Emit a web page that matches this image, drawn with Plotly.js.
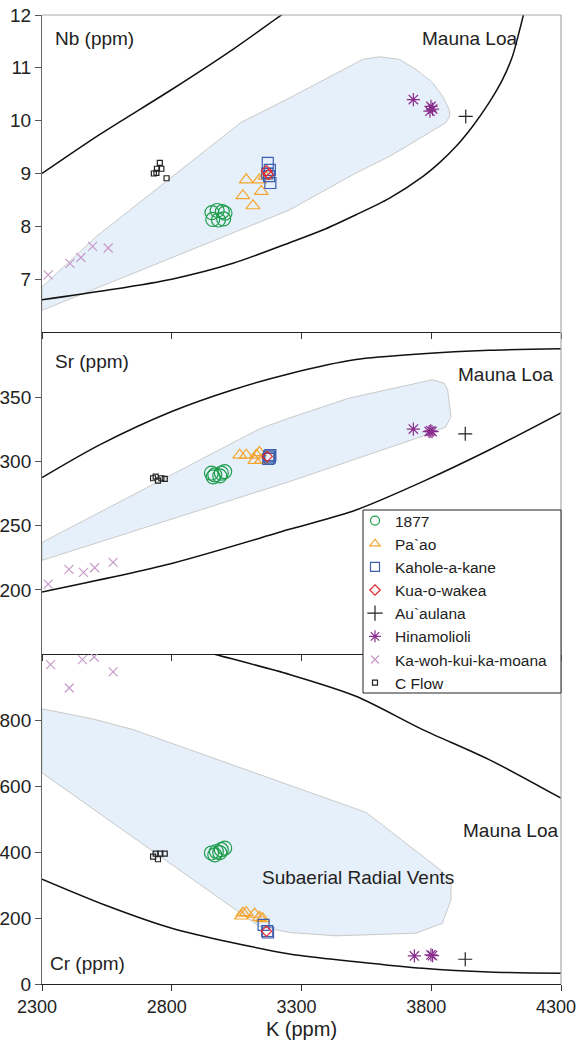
<!DOCTYPE html>
<html><head><meta charset="utf-8">
<script src="https://cdn.plot.ly/plotly-3.0.1.min.js"></script>
<style>html,body{margin:0;padding:0;background:#fff}#chart{width:579px;height:1044px}</style>
</head><body><div id="chart"></div>
<script>
// ---------- DATA ----------
const seriesNames = ['1877', 'Pa`ao', 'Kahole-a-kane', 'Kua-o-wakea', 'Au`aulana', 'Hinamolioli', 'Ka-woh-kui-ka-moana', 'C Flow'];
const xTickVals = [2300, 2800, 3300, 3800, 4300];
const nbTickVals = [7, 8, 9, 10, 11, 12];
const srTickVals = [200, 250, 300, 350];
const crTickVals = [0, 200, 400, 600, 800];

// Nb panel
const nb1877K = [2955, 2975, 2995, 3005, 2958, 2980, 3000];
const nb1877V = [8.26, 8.30, 8.28, 8.25, 8.13, 8.12, 8.14];
const nbPaaoK = [3087, 3074, 3113, 3145, 3138, 3160];
const nbPaaoV = [8.88, 8.58, 8.39, 8.66, 8.88, 8.95];
const nbKaholeK = [3170, 3178, 3175, 3180, 3168];
const nbKaholeV = [9.20, 9.07, 8.95, 8.82, 9.00];
const nbKuaK = [3165, 3172];
const nbKuaV = [9.05, 8.98];
const nbAuK = [3933];
const nbAuV = [10.08];
const nbHinaK = [3731, 3799, 3795, 3805];
const nbHinaV = [10.40, 10.27, 10.18, 10.22];
const nbKawohK = [2324, 2408, 2450, 2495, 2555];
const nbKawohV = [7.08, 7.30, 7.41, 7.62, 7.59];
const nbCflowK = [2731, 2741, 2743, 2754, 2760, 2780];
const nbCflowV = [9.00, 9.01, 9.09, 9.20, 9.09, 8.91];

const nbUpperK = [2300, 2523, 2800, 3036, 3223, 3260];
const nbUpperV = [9.0, 9.74, 10.59, 11.35, 12.0, 12.12];
const nbLowerK = [2300, 2550, 2800, 3036, 3254, 3382, 3510, 3638, 3767, 3831, 3895, 3959, 4023, 4075, 4113, 4138, 4155, 4162];
const nbLowerV = [6.61, 6.79, 7.0, 7.30, 7.69, 7.93, 8.22, 8.53, 8.94, 9.20, 9.51, 9.89, 10.34, 10.78, 11.22, 11.67, 12.0, 12.2];
const nbFieldK = [2300, 2510, 3068, 3254, 3536, 3600, 3677, 3741, 3805, 3844, 3869, 3872, 3856, 3767, 3638, 3510, 3254, 2300, 2300];
const nbFieldV = [6.85, 7.81, 9.97, 10.43, 11.16, 11.21, 11.16, 10.97, 10.72, 10.46, 10.21, 10.09, 9.96, 9.70, 9.32, 9.01, 8.31, 6.41, 6.85];

// Sr panel
const sr1877K = [2953, 2966, 2991, 3004, 2985, 2960];
const sr1877V = [291, 289.6, 291, 292.2, 288.8, 288];
const srPaaoK = [3062, 3087, 3126, 3138, 3145, 3120];
const srPaaoV = [305, 305, 305, 307, 301, 301];
const srKaholeK = [3172, 3175, 3178, 3180];
const srKaholeV = [302, 304, 303, 305];
const srKuaK = [3168];
const srKuaV = [304];
const srAuK = [3931];
const srAuV = [321.6];
const srHinaK = [3731, 3792, 3803, 3798];
const srHinaV = [325.3, 323.4, 323.4, 324];
const srKawohK = [2324, 2404, 2460, 2503, 2574];
const srKawohV = [204.5, 216, 213.6, 217.2, 221.4];
const srCflowK = [2728, 2738, 2747, 2760, 2773];
const srCflowV = [287, 288.3, 285.2, 287, 286.5];

const srUpperK = [2300, 2522, 2800, 3036, 3254, 3510, 3767, 4023, 4300];
const srUpperV = [287.5, 313, 339, 356, 368.5, 379.5, 384, 386.7, 388];
const srLowerK = [2300, 2800, 3254, 3510, 3767, 4023, 4300];
const srLowerV = [198.4, 220.6, 247.2, 262.3, 284.4, 309, 338];
const srFieldK = [2300, 3138, 3254, 3484, 3805, 3850, 3863, 3876, 3856, 3767, 3254, 2300, 2300];
const srFieldV = [237, 325.5, 334, 349.5, 363.8, 361, 356, 335, 327, 319.8, 284.4, 223, 237];

// Cr panel
const cr1877K = [2953, 2972, 2991, 3004, 2966, 2985];
const cr1877V = [397, 401.5, 407, 412, 391, 398];
const crPaaoK = [3074, 3087, 3119, 3138, 3068, 3150];
const crPaaoV = [215, 216, 212, 202, 206, 198];
const crKaholeK = [3154, 3171, 3168];
const crKaholeV = [179, 156, 160];
const crKuaK = [3165];
const crKuaV = [160];
const crAuK = [3931];
const crAuV = [75];
const crHinaK = [3735, 3799, 3805];
const crHinaV = [85, 88, 86];
const crKawohK = [2333, 2405, 2456, 2501, 2574];
const crKawohV = [968, 897, 983, 991, 946];
const crCflowK = [2728, 2738, 2747, 2756, 2773];
const crCflowV = [386, 395, 378, 395, 395];

const crUpperK = [2940, 2972, 3254, 3510, 3767, 4023, 4300];
const crUpperV = [1005, 998, 938, 872, 771, 680, 563];
const crLowerK = [2300, 2550, 2800, 3254, 3510, 3767, 4023, 4300];
const crLowerV = [317.7, 237, 169, 91, 67.7, 47.6, 36.4, 32.5];
const crFieldK = [2300, 2497, 2651, 3254, 3549, 3843, 3876, 3876, 3843, 3741, 3433, 3254, 3138, 2300, 2300];
const crFieldV = [834, 803, 771, 604, 520, 341, 306, 255, 184, 154, 146, 156, 174, 640, 834];

// ---------- STYLE ----------
const FONT = 'Liberation Sans, Arial, sans-serif';
const styles = [
  {sym: 'circle-open', color: '#1d9d4b', size: 14, lsize: 9},
  {sym: 'triangle-up-open', color: '#f5a52e', size: 12, lsize: 9},
  {sym: 'square-open', color: '#3e5fae', size: 11, lsize: 9},
  {sym: 'diamond-open', color: '#e3262b', size: 8, lsize: 8},
  {sym: 'cross-thin-open', color: '#222222', size: 10, lsize: 11},
  {sym: 'asterisk-open', color: '#8a2d8c', size: 11, lsize: 10},
  {sym: 'x-thin-open', color: '#c79ac9', size: 9, lsize: 8},
  {sym: 'square-open', color: '#222222', size: 5, lsize: 5}
];

const traces = [];
function field(k, v, xa, ya) {
  traces.push({x: k, y: v, xaxis: xa, yaxis: ya, type: 'scatter', mode: 'lines', fill: 'toself',
    fillcolor: '#e6f0fa', line: {color: '#c9c9c9', width: 1}, showlegend: false, hoverinfo: 'skip'});
}
function curve(k, v, xa, ya) {
  traces.push({x: k, y: v, xaxis: xa, yaxis: ya, type: 'scatter', mode: 'lines',
    line: {color: '#111', width: 1.5, shape: 'spline', smoothing: 0.8}, showlegend: false, hoverinfo: 'skip'});
}
function pts(k, v, xa, ya, i) {
  const s = styles[i];
  traces.push({x: k, y: v, xaxis: xa, yaxis: ya, type: 'scatter', mode: 'markers', name: seriesNames[i],
    showlegend: false,
    marker: {symbol: s.sym, size: s.size, color: s.color, line: {color: s.color, width: 1.2}}});
}

field(nbFieldK, nbFieldV, 'x', 'y');
field(srFieldK, srFieldV, 'x2', 'y2');
field(crFieldK, crFieldV, 'x3', 'y3');
curve(nbUpperK, nbUpperV, 'x', 'y');
curve(nbLowerK, nbLowerV, 'x', 'y');
curve(srUpperK, srUpperV, 'x2', 'y2');
curve(srLowerK, srLowerV, 'x2', 'y2');
curve(crUpperK, crUpperV, 'x3', 'y3');
curve(crLowerK, crLowerV, 'x3', 'y3');

const nbSets = [[nbKawohK, nbKawohV, 6], [nbCflowK, nbCflowV, 7], [nb1877K, nb1877V, 0], [nbPaaoK, nbPaaoV, 1], [nbKaholeK, nbKaholeV, 2], [nbKuaK, nbKuaV, 3], [nbAuK, nbAuV, 4], [nbHinaK, nbHinaV, 5]];
const srSets = [[srKawohK, srKawohV, 6], [srCflowK, srCflowV, 7], [sr1877K, sr1877V, 0], [srPaaoK, srPaaoV, 1], [srKaholeK, srKaholeV, 2], [srKuaK, srKuaV, 3], [srAuK, srAuV, 4], [srHinaK, srHinaV, 5]];
const crSets = [[crKawohK, crKawohV, 6], [crCflowK, crCflowV, 7], [cr1877K, cr1877V, 0], [crPaaoK, crPaaoV, 1], [crKaholeK, crKaholeV, 2], [crKuaK, crKuaV, 3], [crAuK, crAuV, 4], [crHinaK, crHinaV, 5]];
nbSets.forEach(d => pts(d[0], d[1], 'x', 'y', d[2]));
srSets.forEach(d => pts(d[0], d[1], 'x2', 'y2', d[2]));
crSets.forEach(d => pts(d[0], d[1], 'x3', 'y3', d[2]));

// legend entries
seriesNames.forEach((n, i) => {
  const s = styles[i];
  traces.push({x: [null], y: [null], xaxis: 'x', yaxis: 'y', type: 'scatter', mode: 'markers', name: n,
    showlegend: true,
    marker: {symbol: s.sym, size: s.lsize, color: s.color, line: {color: s.color, width: 1.2}}});
});

// ---------- LAYOUT ----------
const W = 579, H = 1044, ML = 42, MR = 18, MT = 15, MB = 60;
const pw = W - ML - MR, ph = H - MT - MB;
const px = v => (v - ML) / pw;
const py = v => (H - MB - v) / ph;

const d1 = [py(332), 1], d2 = [py(654), py(332)], d3 = [0, py(654)];
const xBase = {range: [2300, 4300], tickvals: xTickVals, ticks: 'outside', ticklen: 6, tickcolor: '#333',
  showline: true, linecolor: '#222', linewidth: 1, showgrid: false, zeroline: false, fixedrange: true};
const yBase = {ticks: 'outside', ticklen: 6, tickcolor: '#555', showline: true, linecolor: '#666', linewidth: 1,
  showgrid: false, zeroline: false, tickfont: {size: 19, color: '#222', family: FONT}};

const ann = (text, x, y, xa) => ({text: text, x: x, y: y, xref: 'paper', yref: 'paper', xanchor: xa, yanchor: 'middle',
  showarrow: false, font: {size: 19, color: '#222', family: FONT}});

const layout = {
  width: W, height: H,
  margin: {l: ML, r: MR, t: MT, b: MB},
  paper_bgcolor: '#fff', plot_bgcolor: 'rgba(0,0,0,0)',
  font: {family: FONT, color: '#222'},
  showlegend: true,
  xaxis: Object.assign({}, xBase, {domain: [0, 1], anchor: 'y', showticklabels: false}),
  xaxis2: Object.assign({}, xBase, {domain: [0, 1], anchor: 'y2', showticklabels: false, matches: 'x'}),
  xaxis3: Object.assign({}, xBase, {domain: [0, 1], anchor: 'y3', showticklabels: true, matches: 'x',
    ticklabeloverflow: 'allow', ticklabelshift: -5,
    tickfont: {size: 18, color: '#222', family: FONT},
    title: {text: 'K (ppm)', font: {size: 20, color: '#222', family: FONT}, standoff: 6}}),
  yaxis: Object.assign({}, yBase, {domain: d1, anchor: 'x', range: [6, 12], tickvals: nbTickVals}),
  yaxis2: Object.assign({}, yBase, {domain: d2, anchor: 'x2', range: [150, 401], tickvals: srTickVals}),
  yaxis3: Object.assign({}, yBase, {domain: d3, anchor: 'x3', range: [0, 1000], tickvals: crTickVals}),
  legend: {x: px(355), y: py(504), xanchor: 'left', yanchor: 'top', bgcolor: 'rgba(0,0,0,0)', borderwidth: 0,
    font: {size: 15.5, color: '#222', family: FONT}, tracegroupgap: 0, itemsizing: 'trace'},
  shapes: [
    {type: 'line', xref: 'paper', yref: 'paper', x0: 1, x1: 1, y0: 0, y1: 1, line: {color: '#aaa', width: 1.2}},
    {type: 'line', xref: 'paper', yref: 'paper', x0: 0, x1: 1, y0: 1, y1: 1, line: {color: '#aaa', width: 1.2}},
    {type: 'rect', xref: 'paper', yref: 'paper', x0: px(363), x1: 1, y0: py(693), y1: py(510),
      fillcolor: '#fff', line: {color: '#222', width: 1}, layer: 'above'}
  ],
  annotations: [
    ann('Nb (ppm)', px(53), py(38), 'left'),
    ann('Mauna Loa', px(470), py(38), 'center'),
    ann('Sr (ppm)', px(53), py(361), 'left'),
    ann('Mauna Loa', px(505.5), py(374), 'center'),
    ann('Mauna Loa', px(510.5), py(830), 'center'),
    ann('Subaerial Radial Vents', px(357.5), py(877), 'center'),
    ann('Cr (ppm)', px(48), py(963), 'left')
  ]
};

Plotly.newPlot('chart', traces, layout, {displayModeBar: false, staticPlot: true});
</script></body></html>
